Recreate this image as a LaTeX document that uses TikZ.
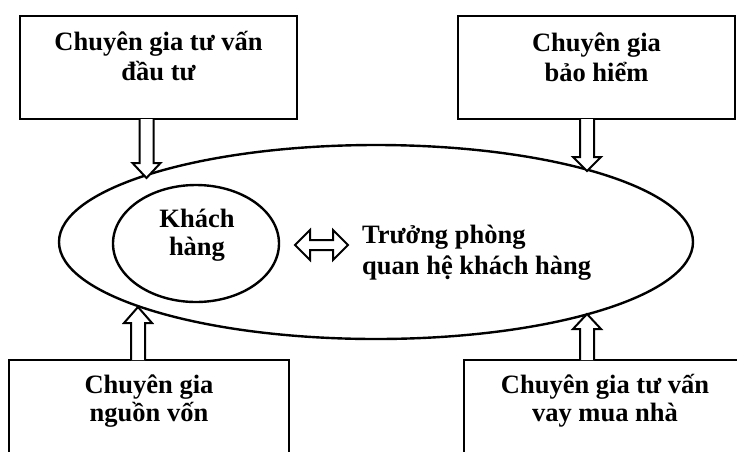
\documentclass[tikz,border=0pt]{standalone}
\usepackage{fontspec}
\setmainfont{Liberation Serif}
\usetikzlibrary{shapes.geometric}
\newcommand{\fatarrow}[4]{% x, base y, head y, tip y
  \draw[fatarrow] ({#1-7},#2) -- ({#1-7},#3) -- ({#1-14},#3) -- (#1,#4) -- ({#1+14},#3) -- ({#1+7},#3) -- ({#1+7},#2);}
\begin{document}
\begin{tikzpicture}[x=1pt,y=-1pt,
  boxshape/.style={draw, line width=2.8pt, rectangle, inner sep=0pt},
  oval/.style={draw, line width=2.4pt, ellipse, inner sep=0pt},
  lbl/.style={font=\fontsize{26.5}{30}\selectfont\bfseries, inner sep=0pt, align=center},
  fatarrow/.style={draw, line width=2pt, fill=white, line join=miter}]
\useasboundingbox (0,0) rectangle (737,451);
\clip (0,0) rectangle (737,451);
% boxes
\node[boxshape, minimum width=277pt, minimum height=103pt] (tl) at (158.5,67.5) {};
\node[boxshape, minimum width=277pt, minimum height=103pt] (tr) at (596.5,67.5) {};
\node[boxshape, minimum width=280pt, minimum height=200pt] (bl) at (149,460) {};
\node[boxshape, minimum width=436pt, minimum height=200pt] (br) at (682,460) {};
% ellipses
\node[oval, minimum width=634pt, minimum height=194pt] (big) at (376,242) {};
\node[oval, minimum width=166pt, minimum height=117pt] (small) at (196,243.5) {};
% texts (base anchor = baseline of the last line)
\node[lbl, anchor=base] (tltext) at (158.5,80) {Chuyên gia tư vấn\\đầu tư};
\node[lbl, anchor=base] (trtext) at (596.5,81) {Chuyên gia\\bảo hiểm};
\node[lbl, anchor=base, font=\fontsize{26.5}{28}\selectfont\bfseries] (bltext) at (149,421) {Chuyên gia\\nguồn vốn};
\node[lbl, anchor=base, font=\fontsize{26.5}{28}\selectfont\bfseries] (brtext) at (605,421) {Chuyên gia tư vấn\\vay mua nhà};
\node[lbl, anchor=base, font=\fontsize{26.5}{28}\selectfont\bfseries] (kh) at (197,255) {Khách\\hàng};
\node[lbl, anchor=base west, align=left, font=\fontsize{26.5}{31}\selectfont\bfseries] (tp) at (362,274) {Trưởng phòng\\quan hệ khách hàng};
% arrows
\fatarrow{146.5}{119}{163}{178}
\fatarrow{587}{119}{157}{171}
\fatarrow{138}{360}{323}{307}
\fatarrow{587}{360}{329}{314}
\draw[fatarrow] (295,245) -- (310,230) -- (310,240) -- (333,240) -- (333,230) -- (348,245) -- (333,260) -- (333,250) -- (310,250) -- (310,260) -- cycle;
\end{tikzpicture}
\end{document}
